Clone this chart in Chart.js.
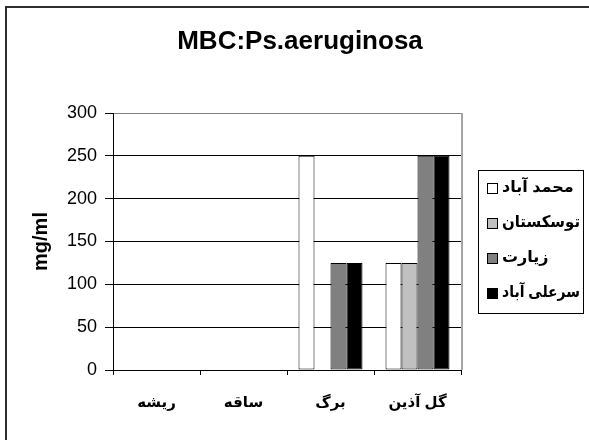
<!DOCTYPE html>
<html>
<head>
<meta charset="utf-8">
<script src="https://cdn.jsdelivr.net/npm/chart.js@4/dist/chart.umd.min.js"></script>
<style>
  html, body { margin: 0; padding: 0; background: #ffffff; }
  #wrap { width: 589px; height: 440px; }
</style>
</head>
<body>
<div id="wrap"><canvas id="c" width="589" height="440"></canvas></div>
<script>
// Plant parts on the category axis
const categories = ['ریشه', 'ساقه', 'برگ', 'گل آذین'];
// Sampling regions (series)
const seriesNames = ['محمد آباد', 'توسکستان', 'زیارت', 'سرعلی آباد'];
// MBC values (mg/ml) per region
const mohammadAbad = [0, 0, 250, 125];
const tooskestan   = [0, 0, 0, 125];
const ziarat       = [0, 0, 125, 250];
const sarAliAbad   = [0, 0, 125, 250];
const seriesColors = ['#ffffff', '#c0c0c0', '#808080', '#000000'];
const chartTitle = 'MBC:Ps.aeruginosa';
const yAxisTitle = 'mg/ml';
const yMin = 0, yMax = 300, yStep = 50;

const FONT = 'Arial, "Liberation Sans", "DejaVu Sans", sans-serif';

const seriesValues = [mohammadAbad, tooskestan, ziarat, sarAliAbad];

// Frame, chart title, plot border and boxed legend
const decorations = {
  id: 'decorations',
  beforeDraw(chart) {
    const ctx = chart.ctx;
    ctx.save();
    ctx.fillStyle = '#ffffff';
    ctx.fillRect(0, 0, chart.width, chart.height);
    ctx.strokeStyle = '#2e2e2e';
    ctx.lineWidth = 2;
    ctx.strokeRect(6, 7, 800, 800);
    ctx.restore();
  },
  afterDraw(chart) {
    const ctx = chart.ctx;
    const area = chart.chartArea;
    ctx.save();
    // title
    ctx.fillStyle = '#000000';
    ctx.font = 'bold 26px ' + FONT;
    ctx.textAlign = 'center';
    ctx.textBaseline = 'middle';
    ctx.fillText(chartTitle, 300, 42);

    // right border of the plot area
    ctx.strokeStyle = '#a6a6a6';
    ctx.lineWidth = 2;
    ctx.beginPath();
    ctx.moveTo(area.right + 1, area.top);
    ctx.lineTo(area.right + 1, area.bottom);
    ctx.stroke();

    // legend
    const lx = 478, ly = 170, lw = 105, lh = 143;
    ctx.strokeStyle = '#000000';
    ctx.lineWidth = 1;
    ctx.strokeRect(lx + 0.5, ly + 0.5, lw, lh);
    ctx.font = 'bold 16px ' + FONT;
    ctx.textAlign = 'left';
    ctx.textBaseline = 'middle';
    chart.data.datasets.forEach((ds, i) => {
      const cy = 188 + i * 35;
      ctx.fillStyle = ds.backgroundColor;
      ctx.fillRect(487, cy - 5, 10, 10);
      ctx.strokeStyle = '#000000';
      ctx.strokeRect(487.5, cy - 4.5, 10, 10);
      ctx.fillStyle = '#000000';
      ctx.fillText(ds.label, 502, cy, 78);
    });
    ctx.restore();
  }
};

new Chart(document.getElementById('c'), {
  type: 'bar',
  data: {
    labels: categories,
    datasets: seriesNames.map((name, i) => ({
      label: name,
      data: seriesValues[i],
      backgroundColor: seriesColors[i],
      borderColor: '#000000',
      borderWidth: 1,
      borderSkipped: false,
      categoryPercentage: 64 / 87,
      barPercentage: 1
    }))
  },
  options: {
    responsive: false,
    devicePixelRatio: 1,
    animation: false,
    layout: { padding: { top: 113, right: 128, bottom: 0, left: 0 } },
    plugins: {
      legend: { display: false },
      title: { display: false },
      tooltip: { enabled: false }
    },
    scales: {
      x: {
        afterFit(scale) { scale.height = 70; },
        grid: {
          offset: true,
          drawOnChartArea: false,
          drawTicks: true,
          tickLength: 5,
          color: '#000000'
        },
        border: { color: '#000000', width: 1 },
        ticks: {
          color: '#000000',
          padding: 19,
          font: { family: FONT, size: 15, weight: 'bold' }
        }
      },
      y: {
        min: yMin,
        max: yMax,
        afterFit(scale) { scale.width = 113; },
        grid: {
          color: (c) => (c.tick && c.tick.value === yMax) ? '#808080' : '#000000',
          tickColor: '#000000',
          tickLength: 8
        },
        border: { color: '#000000', width: 1 },
        ticks: {
          stepSize: yStep,
          color: '#000000',
          padding: 8,
          font: { family: FONT, size: 18 }
        },
        title: {
          display: true,
          text: yAxisTitle,
          color: '#000000',
          padding: { top: 29, bottom: 6 },
          font: { family: FONT, size: 20, weight: 'bold' }
        }
      }
    }
  },
  plugins: [decorations]
});
</script>
</body>
</html>
